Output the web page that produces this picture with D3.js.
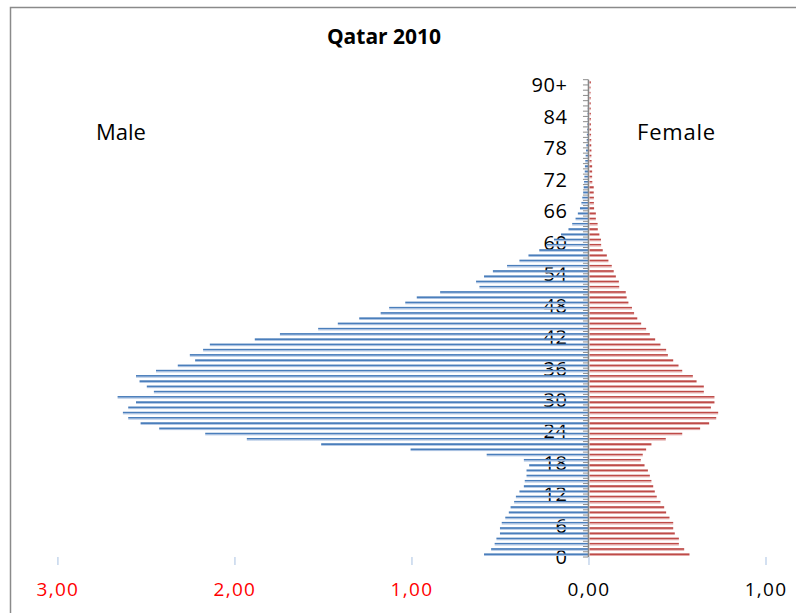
<html lang="en">
	<head>
		<meta charset="utf-8">
		<title>Qatar 2010</title>
		<script src="https://d3js.org/d3.v7.min.js"></script>
		<style type="text/css">
			body {
				margin: 0;
				background-color: white;
			}
			text {
				font-family: "Open Sans", sans-serif;
			}
		</style>
	</head>
	<body>
		<script type="text/javascript">

			//Age groups, bottom to top
			var ages = d3.range(0, 90).map(String).concat(["90+"]);

			//Share of population (%) by age
			var male = [
				0.59, 0.55, 0.53, 0.52, 0.50, 0.50, 0.49, 0.47, 0.45, 0.44,
				0.42, 0.41, 0.39, 0.365, 0.36, 0.35, 0.35, 0.335, 0.365, 0.575,
				1.005, 1.51, 1.93, 2.165, 2.425, 2.53, 2.60, 2.63, 2.60, 2.556,
				2.66, 2.455, 2.495, 2.536, 2.556, 2.443, 2.32, 2.222, 2.252, 2.177,
				2.139, 1.885, 1.743, 1.527, 1.416, 1.295, 1.174, 1.126, 1.035, 0.97,
				0.838, 0.616, 0.635, 0.59, 0.54, 0.46, 0.39, 0.339, 0.278, 0.235,
				0.195, 0.155, 0.113, 0.092, 0.073, 0.06, 0.048, 0.04, 0.035, 0.03,
				0.027, 0.025, 0.023, 0.021, 0.02, 0.018, 0.016, 0.014, 0.012, 0.01,
				0.009, 0.007, 0.006, 0.005, 0.005, 0.004, 0.003, 0.003, 0.002, 0.002,
				0.003
			];
			var female = [
				0.565, 0.535, 0.505, 0.505, 0.482, 0.473, 0.473, 0.452, 0.433, 0.422,
				0.401, 0.38, 0.369, 0.36, 0.35, 0.341, 0.33, 0.311, 0.29, 0.301,
				0.32, 0.35, 0.431, 0.524, 0.625, 0.676, 0.716, 0.727, 0.686, 0.706,
				0.706, 0.646, 0.646, 0.605, 0.584, 0.524, 0.503, 0.473, 0.443, 0.433,
				0.401, 0.371, 0.341, 0.32, 0.292, 0.27, 0.252, 0.24, 0.22, 0.21,
				0.205, 0.168, 0.166, 0.149, 0.137, 0.126, 0.107, 0.098, 0.075, 0.066,
				0.065, 0.056, 0.047, 0.046, 0.036, 0.036, 0.026, 0.025, 0.025, 0.024,
				0.024, 0.016, 0.015, 0.015, 0.015, 0.012, 0.011, 0.011, 0.01, 0.01,
				0.009, 0.009, 0.008, 0.008, 0.008, 0.007, 0.007, 0.007, 0.006, 0.006,
				0.008
			];

			//Axis ticks (male side negative)
			var xTicks = [-3, -2, -1, 0, 1];
			var ageTicks = ages.filter(function(d, i) { return i % 6 === 0; });

			//Width and height
			var w = 796;
			var h = 613;

			var svg = d3.select("body")
						.append("svg")
						.attr("width", w)
						.attr("height", h);

			//Gradients for the thin bars
			var defs = svg.append("defs");
			function grad(id, dark, light) {
				var g = defs.append("linearGradient")
					.attr("id", id)
					.attr("x1", 0).attr("y1", 0).attr("x2", 0).attr("y2", 1);
				g.append("stop").attr("offset", "0%").attr("stop-color", dark);
				g.append("stop").attr("offset", "50%").attr("stop-color", dark);
				g.append("stop").attr("offset", "60%").attr("stop-color", light);
				g.append("stop").attr("offset", "100%").attr("stop-color", light);
			}
			grad("gMale", "#4a7ebb", "#a9c1e1");
			grad("gFemale", "#be4b48", "#e3a7a6");

			//Frame
			svg.append("rect")
				.attr("x", 10.5)
				.attr("y", 7.5)
				.attr("width", 800)
				.attr("height", 700)
				.attr("fill", "none")
				.attr("stroke", "#8a8a8a")
				.attr("stroke-width", 1.5);

			//Scales
			var xScale = d3.scaleLinear()
					.domain([-3, 1])
					.range([57.4, 765.5]);

			var yScale = d3.scaleBand()
					.domain(ages)
					.range([557, 79.7]);

			var bh = 2.6;

			//Y axis ticks between categories
			svg.selectAll("line.ytick")
			   .data(d3.range(ages.length + 1))
			   .enter()
			   .append("line")
			   .attr("class", "ytick")
			   .attr("x1", xScale(0) - 5.5)
			   .attr("x2", xScale(0))
			   .attr("y1", function(d) { return yScale.range()[0] - d * yScale.step(); })
			   .attr("y2", function(d) { return yScale.range()[0] - d * yScale.step(); })
			   .attr("stroke", "#8c8c8c")
			   .attr("stroke-width", 1);

			//Age labels
			svg.selectAll("text.age")
			   .data(ageTicks)
			   .enter()
			   .append("text")
			   .attr("class", "age")
			   .text(function(d) { return d; })
			   .attr("x", 567.5)
			   .attr("y", function(d) { return yScale(d) + yScale.bandwidth() / 2 + 10; })
			   .attr("text-anchor", "end")
			   .attr("font-size", "20px")
			   .attr("letter-spacing", "0.6px")
			   .attr("fill", "black");

			//Male bars
			svg.selectAll("rect.male")
			   .data(male)
			   .enter()
			   .append("rect")
			   .attr("class", "male")
			   .attr("x", function(d) { return xScale(-d); })
			   .attr("y", function(d, i) { return yScale(ages[i]) + yScale.bandwidth() / 2 - 1; })
			   .attr("width", function(d) { return xScale(0) - xScale(-d); })
			   .attr("height", bh)
			   .attr("fill", "url(#gMale)");

			//Female bars
			svg.selectAll("rect.female")
			   .data(female)
			   .enter()
			   .append("rect")
			   .attr("class", "female")
			   .attr("x", xScale(0) + 1)
			   .attr("y", function(d, i) { return yScale(ages[i]) + yScale.bandwidth() / 2 - 1; })
			   .attr("width", function(d) { return xScale(d) - xScale(0); })
			   .attr("height", bh)
			   .attr("fill", "url(#gFemale)");

			//Y axis line
			svg.append("line")
				.attr("x1", xScale(0)).attr("x2", xScale(0))
				.attr("y1", yScale.range()[1]).attr("y2", yScale.range()[0])
				.attr("stroke", "#868686")
				.attr("stroke-width", 1.5);

			//X axis (ticks only, no line)
			var xAxis = d3.axisBottom(xScale)
							.tickValues(xTicks)
							.tickSize(8)
							.tickFormat(function(d) { return Math.abs(d).toFixed(2).replace(".", ","); });

			var gx = svg.append("g")
				.attr("transform", "translate(0,557)")
				.call(xAxis);
			gx.select(".domain").remove();
			gx.selectAll(".tick line")
				.attr("stroke", "#c5d6ec")
				.attr("stroke-width", 1.5);
			gx.selectAll(".tick text")
				.attr("y", 39)
				.attr("dy", 0)
				.attr("font-family", "'Open Sans', sans-serif")
				.attr("font-size", "19px")
				.attr("letter-spacing", "1.3px")
				.attr("fill", function(d) { return d < 0 ? "#ff0000" : "black"; });

			//Title and side labels
			svg.append("text")
				.attr("x", 384)
				.attr("y", 44)
				.attr("text-anchor", "middle")
				.attr("font-size", "21px")
				.attr("font-weight", "bold")
				.text("Qatar 2010");

			svg.append("text")
				.attr("x", 96)
				.attr("y", 140)
				.attr("font-size", "22px")
				.text("Male");

			svg.append("text")
				.attr("x", 637)
				.attr("y", 140)
				.attr("font-size", "22px")
				.attr("letter-spacing", "0.8px")
				.text("Female");

		</script>
	</body>
</html>
